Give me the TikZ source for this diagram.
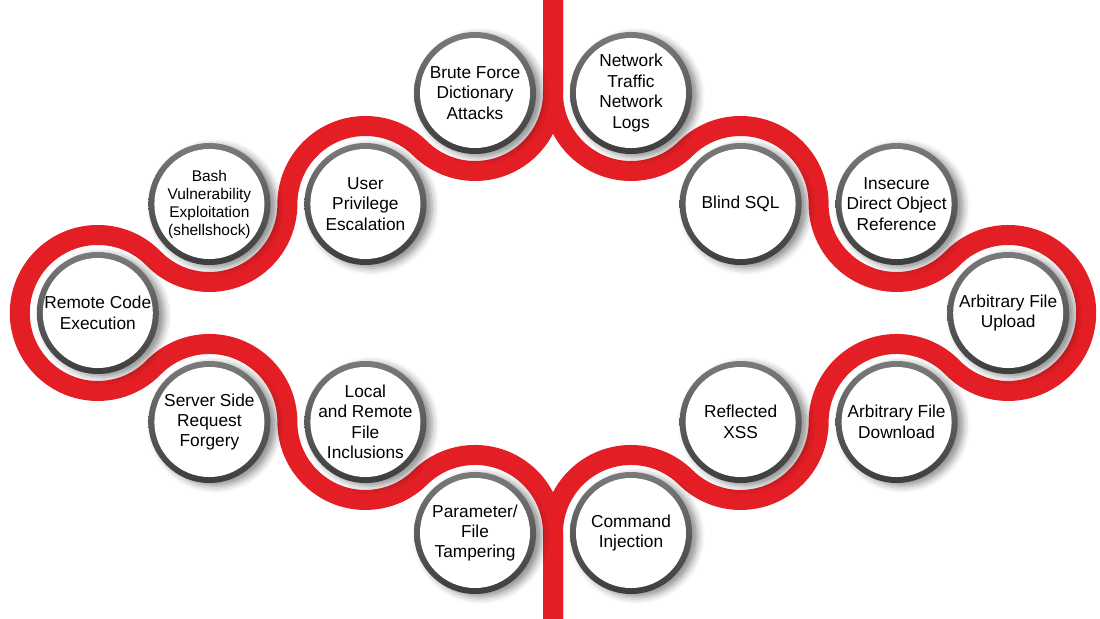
\documentclass[tikz,border=0pt]{standalone}
\usepackage{fontspec}
\setmainfont{Liberation Sans}
\usepackage{xcolor}
\usepackage{tikz}
\usetikzlibrary{shadows.blur}
\definecolor{bandred}{HTML}{E31E25}

\begin{document}
\begin{tikzpicture}[x=0.025cm, y=-0.025cm,
    band/.style={bandred, line width=0.5cm},
    ring/.style={top color=black!52, bottom color=black!76,
        blur shadow={shadow xshift=4pt, shadow yshift=-2pt,
            shadow blur radius=5pt, shadow opacity=45}},
    bubble/.style={circle, fill=white, minimum size=2.75cm, inner sep=-15pt,
        align=center, font=\fontsize{12.3}{14.5}\selectfont},
    smalltext/.style={font=\fontsize{11}{12.8}\selectfont}]
    \useasboundingbox (0,0) rectangle (1100,619);

    % 1. Red band, left branch
    \draw[band] (553,0) -- (553,93)
        arc[start angle=0, end angle=134.64, radius=78]
        arc[start angle=-45.36, end angle=-180, radius=78]
        arc[start angle=0, end angle=135.68, radius=78]
        arc[start angle=-44.32, end angle=-315.68, radius=78]
        arc[start angle=224.32, end angle=360, radius=78]
        arc[start angle=180, end angle=45.36, radius=78]
        arc[start angle=225.36, end angle=360, radius=78]
        -- (553,619);

    % 2. Red band, right branch
    \draw[band] (553,0) -- (553,93)
        arc[start angle=180, end angle=45.36, radius=78]
        arc[start angle=225.36, end angle=360, radius=78]
        arc[start angle=180, end angle=44.32, radius=78]
        arc[start angle=224.32, end angle=495.68, radius=78]
        arc[start angle=-44.32, end angle=-180, radius=78]
        arc[start angle=0, end angle=134.64, radius=78]
        arc[start angle=-45.36, end angle=-180, radius=78]
        -- (553,619);

    % 3. Left circles
    \shade[ring] (475,93) circle (61);
    \node[bubble] (brute) at (475,93) {Brute Force\\Dictionary\\Attacks};
    \shade[ring] (365.4,204) circle (61);
    \node[bubble] (privilege) at (365.4,204) {User\\Privilege\\Escalation};
    \shade[ring] (209.4,204) circle (61);
    \node[bubble, smalltext] (bash) at (209.4,204) {Bash\\Vulnerability\\Exploitation\\(shellshock)};
    \shade[ring] (97.8,313) circle (61);
    \node[bubble] (rce) at (97.8,313) {Remote Code\\Execution};
    \shade[ring] (209.4,422) circle (61);
    \node[bubble] (ssrf) at (209.4,422) {Server Side\\Request\\Forgery};
    \shade[ring] (365.4,422) circle (61);
    \node[bubble] (inclusion) at (365.4,422) {Local\\and Remote\\File\\Inclusions};
    \shade[ring] (475,533) circle (61);
    \node[bubble] (tamper) at (475,533) {Parameter/\\File\\Tampering};

    % 4. Right circles
    \shade[ring] (631,93) circle (61);
    \node[bubble] (traffic) at (631,93) {Network\\Traffic\\Network\\Logs};
    \shade[ring] (740.6,204) circle (61);
    \node[bubble] (blindsql) at (740.6,204) {Blind SQL};
    \shade[ring] (896.6,204) circle (61);
    \node[bubble] (idor) at (896.6,204) {Insecure\\Direct Object\\Reference};
    \shade[ring] (1008.2,313) circle (61);
    \node[bubble] (upload) at (1008.2,313) {Arbitrary File\\Upload};
    \shade[ring] (896.6,422) circle (61);
    \node[bubble] (download) at (896.6,422) {Arbitrary File\\Download};
    \shade[ring] (740.6,422) circle (61);
    \node[bubble] (xss) at (740.6,422) {Reflected\\XSS};
    \shade[ring] (631,533) circle (61);
    \node[bubble] (cmd) at (631,533) {Command\\Injection};

\end{tikzpicture}
\end{document}
